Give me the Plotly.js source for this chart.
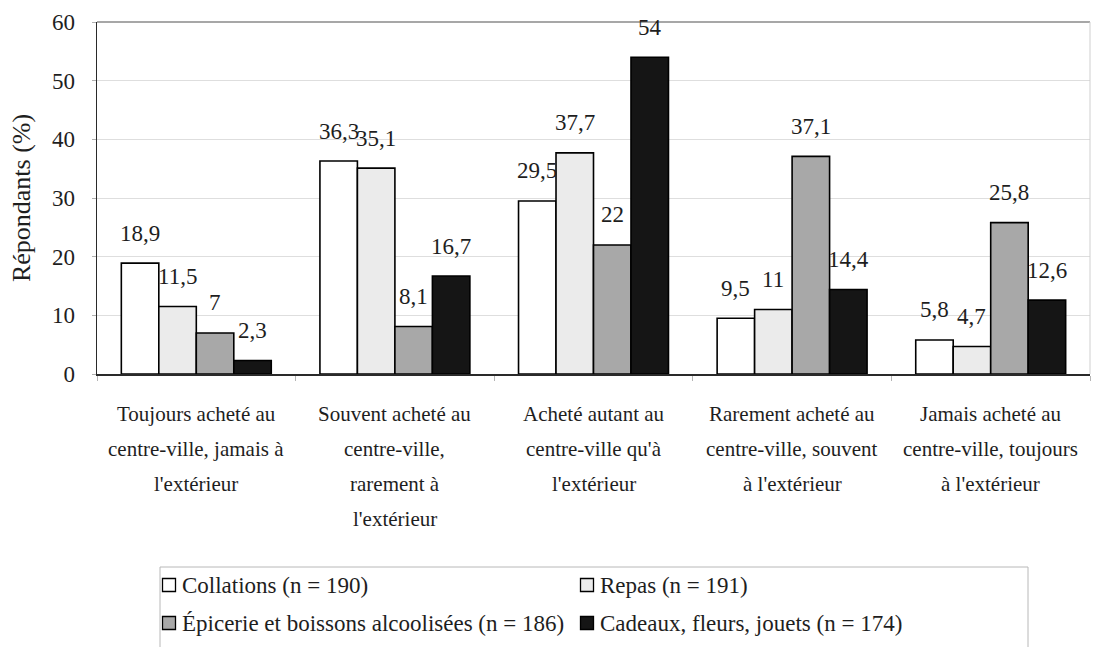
<!DOCTYPE html>
<html>
<head>
<meta charset="utf-8">
<script src="https://cdn.plot.ly/plotly-3.0.1.min.js"></script>
<style>
  html, body { margin: 0; padding: 0; background: #ffffff; }
  #chart { width: 1093px; height: 647px; }
</style>
</head>
<body>
<div id="chart"></div>
<script>
// Purchase-location categories (line breaks mark the wrapped label lines)
const categories = [
  "Toujours acheté au<br>centre-ville, jamais à<br>l'extérieur",
  "Souvent acheté au<br>centre-ville,<br>rarement à<br>l'extérieur",
  "Acheté autant au<br>centre-ville qu'à<br>l'extérieur",
  "Rarement acheté au<br>centre-ville, souvent<br>à l'extérieur",
  "Jamais acheté au<br>centre-ville, toujours<br>à l'extérieur"
];

const seriesNames = [
  "Collations (n = 190)",
  "Repas (n = 191)",
  "Épicerie et boissons alcoolisées (n = 186)",
  "Cadeaux, fleurs, jouets (n = 174)"
];

// Share of respondents (%)
const collations = [18.9, 36.3, 29.5, 9.5, 5.8];
const repas      = [11.5, 35.1, 37.7, 11, 4.7];
const epicerie   = [7, 8.1, 22, 37.1, 25.8];
const cadeaux    = [2.3, 16.7, 54, 14.4, 12.6];

const yTicks = [0, 10, 20, 30, 40, 50, 60];

const seriesValues = [collations, repas, epicerie, cadeaux];
const seriesFill = ["#ffffff", "#ebebeb", "#a8a8a8", "#151515"];

// Page geometry
const W = 1093, H = 647;
const M = { l: 97, r: 3, t: 22, b: 273 };
const plotW = W - M.l - M.r;
const plotH = H - M.t - M.b;
const BARGAP = 0.245;
const SERIF = "Liberation Serif";
const INK = "#1e1e1e";

// pixel -> paper helpers for elements placed outside the plot area
const toPaperX = x => (x - M.l) / plotW;
const toPaperY = y => (H - M.b - y) / plotH;

const xIdx = categories.map((_, i) => i);

const traces = seriesValues.map((vals, s) => ({
  type: "bar",
  name: seriesNames[s],
  x: xIdx,
  y: vals,
  marker: { color: seriesFill[s], line: { color: "#000000", width: 1.6 } },
  hoverinfo: "skip",
  showlegend: false
}));

const annotations = [];
const shapes = [];

// value labels above each bar
const catW = plotW / categories.length;
const barW = catW * (1 - BARGAP) / seriesValues.length;
seriesValues.forEach((vals, s) => {
  vals.forEach((v, i) => {
    annotations.push({
      x: i, y: v, xref: "x", yref: "y",
      text: String(v).replace(".", ","),
      showarrow: false,
      xanchor: "center", yanchor: "middle",
      xshift: (s - (seriesValues.length - 1) / 2) * barW,
      yshift: 30,
      font: { family: SERIF, size: 23, color: INK }
    });
  });
});

// wrapped category labels
categories.forEach((label, i) => {
  label.split("<br>").forEach((line, j) => {
    annotations.push({
      x: i, xref: "x",
      y: toPaperY(414 + 35 * j), yref: "paper",
      text: line,
      showarrow: false,
      xanchor: "center", yanchor: "middle",
      font: { family: SERIF, size: 21, color: INK }
    });
  });
});

// frame: top and right edges of the plot area
shapes.push({ type: "line", xref: "paper", yref: "paper", x0: 0, x1: 1, y0: 1, y1: 1,
  line: { color: "#8a8a8a", width: 1.5 } });
shapes.push({ type: "line", xref: "paper", yref: "paper", x0: 1, x1: 1, y0: 0, y1: 1,
  line: { color: "#cfcfcf", width: 1 } });

// legend box with two columns
shapes.push({ type: "rect", xref: "paper", yref: "paper",
  x0: toPaperX(160), x1: toPaperX(1028), y0: toPaperY(680), y1: toPaperY(567),
  line: { color: "#b8b8b8", width: 1 }, fillcolor: "rgba(0,0,0,0)" });

const legendCols = [169, 587];
const legendRows = [585, 623];
const sym = 6.5;
seriesNames.forEach((name, s) => {
  const cx = legendCols[s % 2];
  const cy = legendRows[Math.floor(s / 2)];
  shapes.push({ type: "rect", xref: "paper", yref: "paper",
    x0: toPaperX(cx - sym), x1: toPaperX(cx + sym), y0: toPaperY(cy + sym), y1: toPaperY(cy - sym),
    fillcolor: seriesFill[s], line: { color: "#000000", width: 1.3 } });
  annotations.push({
    x: toPaperX(cx + 11), xref: "paper",
    y: toPaperY(cy), yref: "paper",
    text: name, showarrow: false,
    xanchor: "left", yanchor: "middle",
    font: { family: SERIF, size: 23, color: INK }
  });
});

const layout = {
  width: W, height: H,
  margin: M,
  paper_bgcolor: "#ffffff",
  plot_bgcolor: "#ffffff",
  barmode: "group",
  bargap: BARGAP,
  bargroupgap: 0,
  showlegend: false,
  font: { family: SERIF, size: 22 },
  xaxis: {
    type: "category",
    range: [-0.5, categories.length - 0.5],
    showticklabels: false,
    ticks: "outside",
    tickson: "boundaries",
    ticklen: 5,
    tickcolor: "#b5b5b5",
    showgrid: false,
    showline: true,
    linecolor: "#2a2a2a",
    linewidth: 1.5,
    zeroline: false,
    fixedrange: true
  },
  yaxis: {
    range: [0, 60],
    tickvals: yTicks,
    ticktext: yTicks.map(String),
    ticks: "outside",
    ticklen: 4,
    tickcolor: "#b0b0b0",
    ticklabelstandoff: 12,
    tickfont: { family: SERIF, size: 23, color: INK },
    showgrid: true,
    gridcolor: "#dedede",
    gridwidth: 1,
    showline: true,
    linecolor: "#2a2a2a",
    linewidth: 1.5,
    zeroline: false,
    fixedrange: true,
    title: {
      text: "Répondants (%)",
      font: { family: SERIF, size: 26, color: INK },
      standoff: 14
    }
  },
  annotations: annotations,
  shapes: shapes
};

Plotly.newPlot("chart", traces, layout, { staticPlot: true, displayModeBar: false });
</script>
</body>
</html>
